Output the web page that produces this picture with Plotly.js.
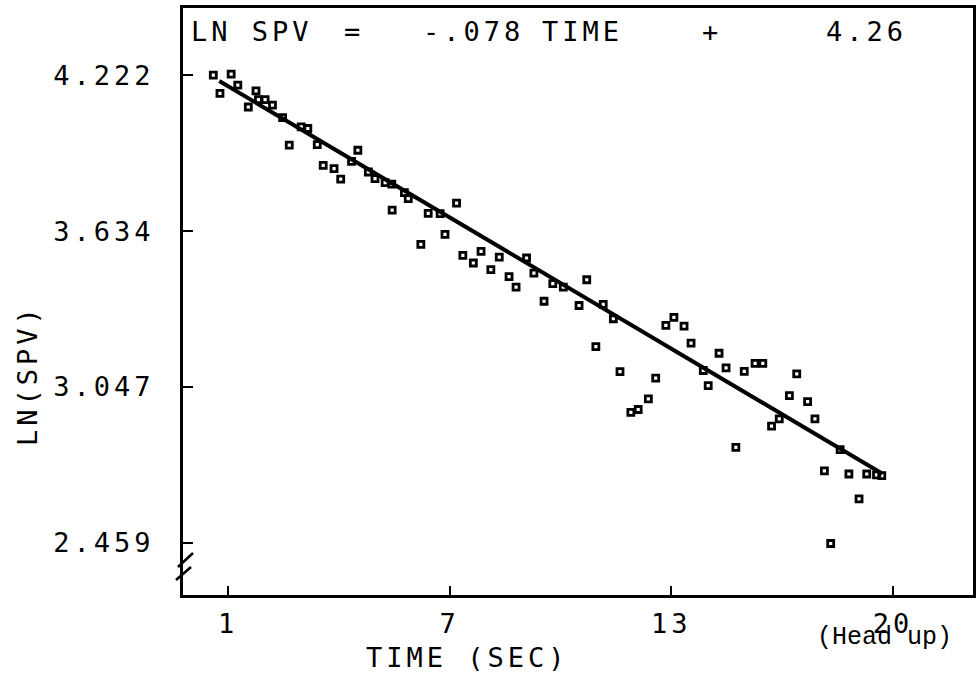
<!DOCTYPE html>
<html>
<head>
<meta charset="utf-8">
<script src="https://cdn.plot.ly/plotly-3.0.1.min.js"></script>
<style>
  html, body { margin: 0; padding: 0; background: #fff; }
  #chart { width: 976px; height: 673px; }
  #chart svg text { letter-spacing: 4px; }
  #chart g.annotation[data-index="8"] text { letter-spacing: 0px; }
</style>
</head>
<body>
<div id="chart"></div>
<script>
// Observed points: time (sec) and ln(SPV)
const timeSec = [0.58,0.77,1.09,1.28,1.58,1.80,1.87,2.06,2.27,2.56,2.75,3.09,3.28,3.55,3.72,4.03,4.22,4.53,4.71,5.01,
  5.20,5.49,5.68,5.69,6.04,6.15,6.51,6.72,7.06,7.20,7.53,7.71,8.01,8.23,8.51,8.75,9.03,9.23,9.53,9.74,
  10.03,10.28,10.58,11.03,11.25,11.51,11.72,12.01,12.20,12.51,12.72,13.01,13.22,13.51,13.74,14.03,14.23,14.58,14.72,15.03,
  15.23,15.51,15.75,16.06,16.28,16.53,16.75,17.04,17.25,17.56,17.77,18.04,18.22,18.49,18.74,19.03,19.25,19.53,19.68];
const lnSpv = [4.222,4.153,4.226,4.184,4.102,4.163,4.130,4.130,4.109,4.062,3.958,4.027,4.021,3.960,3.882,3.870,3.830,3.897,3.939,3.857,
  3.832,3.817,3.811,3.713,3.779,3.757,3.584,3.701,3.700,3.622,3.740,3.543,3.514,3.558,3.489,3.536,3.463,3.423,3.533,3.476,
  3.370,3.436,3.423,3.354,3.451,3.199,3.358,3.304,3.105,2.951,2.962,3.002,3.080,3.279,3.309,3.276,3.212,3.109,3.052,3.174,
  3.119,2.819,3.106,3.136,3.136,2.899,2.927,3.014,3.096,2.992,2.927,2.731,2.457,2.811,2.719,2.625,2.719,2.716,2.713];

// Fitted line end points (LN SPV = -.078 TIME + 4.26)
const fitTime = [0.75, 19.70];
const fitLnSpv = [4.20, 2.72];

// Axis ticks
const xTickVals = [1, 7.333, 13.667, 20];
const xTickText = ["1", "7", "13", "20"];
const yTickVals = [2.459, 3.047, 3.634, 4.222];
const yTickText = ["2.459", "3.047", "3.634", "4.222"];

const mono = "DejaVu Sans Mono, monospace";

const W = 976, H = 673;
const L = 183, R = 3, T = 8, B = 78;
const pw = W - L - R, ph = H - T - B;
const px = v => (v - L) / pw;
const py = v => 1 - (v - T) / ph;

const traces = [
  {
    x: fitTime, y: fitLnSpv, type: 'scatter', mode: 'lines',
    line: { color: '#000', width: 4 }, hoverinfo: 'skip', showlegend: false
  },
  {
    x: timeSec, y: lnSpv, type: 'scatter', mode: 'markers',
    marker: { symbol: 'square-open', size: 6, color: '#000', line: { color: '#000', width: 2.8 } },
    showlegend: false
  }
];

const titleTokens = [
  { t: "LN SPV", x: 201 },
  { t: "=", x: 344 },
  { t: "-.078", x: 431 },
  { t: "TIME", x: 548 },
  { t: "+", x: 702 },
  { t: "4.26", x: 832 }
];

const annotations = titleTokens.map(k => ({
  text: k.t, xref: 'paper', yref: 'paper', x: px(k.x), y: py(31),
  xanchor: 'left', yanchor: 'middle', showarrow: false,
  font: { family: mono, size: 27, color: '#000' }
}));

annotations.push({
  text: "LN(SPV)", xref: 'paper', yref: 'paper', x: px(27), y: py(375),
  xanchor: 'center', yanchor: 'middle', textangle: -90, showarrow: false,
  font: { family: mono, size: 27, color: '#000' }
});
annotations.push({
  text: "TIME (SEC)", xref: 'paper', yref: 'paper', x: px(467), y: py(657),
  xanchor: 'center', yanchor: 'middle', showarrow: false,
  font: { family: mono, size: 27, color: '#000' }
});
annotations.push({
  text: "(Head up)", xref: 'paper', yref: 'paper', x: px(884), y: py(637),
  xanchor: 'center', yanchor: 'middle', showarrow: false,
  font: { family: "Liberation Mono, monospace", size: 25, color: '#000' }
});

const shapes = [
  { type: 'line', xref: 'paper', yref: 'paper', x0: px(178), y0: py(567), x1: px(193), y1: py(553), line: { color: '#000', width: 2.5 } },
  { type: 'line', xref: 'paper', yref: 'paper', x0: px(176), y0: py(580), x1: px(191), y1: py(567), line: { color: '#000', width: 2.5 } }
];

const layout = {
  width: W, height: H,
  margin: { l: L, r: R, t: T, b: B, pad: 0 },
  paper_bgcolor: '#fff', plot_bgcolor: '#fff',
  showlegend: false,
  xaxis: {
    range: [-0.286, 22.286],
    tickmode: 'array', tickvals: xTickVals, ticktext: xTickText,
    ticks: 'inside', ticklen: 9, tickwidth: 2, tickcolor: '#000',
    showline: true, linecolor: '#000', linewidth: 3, mirror: true,
    showgrid: false, zeroline: false,
    tickfont: { family: mono, size: 27, color: '#000' },
    ticklabelstandoff: 3
  },
  yaxis: {
    range: [2.263, 4.475],
    tickmode: 'array', tickvals: yTickVals, ticktext: yTickText,
    ticks: 'inside', ticklen: 10, tickwidth: 2.5, tickcolor: '#000',
    showline: true, linecolor: '#000', linewidth: 3, mirror: true,
    showgrid: false, zeroline: false,
    tickfont: { family: mono, size: 27, color: '#000' },
    ticklabelstandoff: 20
  },
  annotations: annotations,
  shapes: shapes
};

Plotly.newPlot('chart', traces, layout, { displayModeBar: false, staticPlot: true });
</script>
</body>
</html>
